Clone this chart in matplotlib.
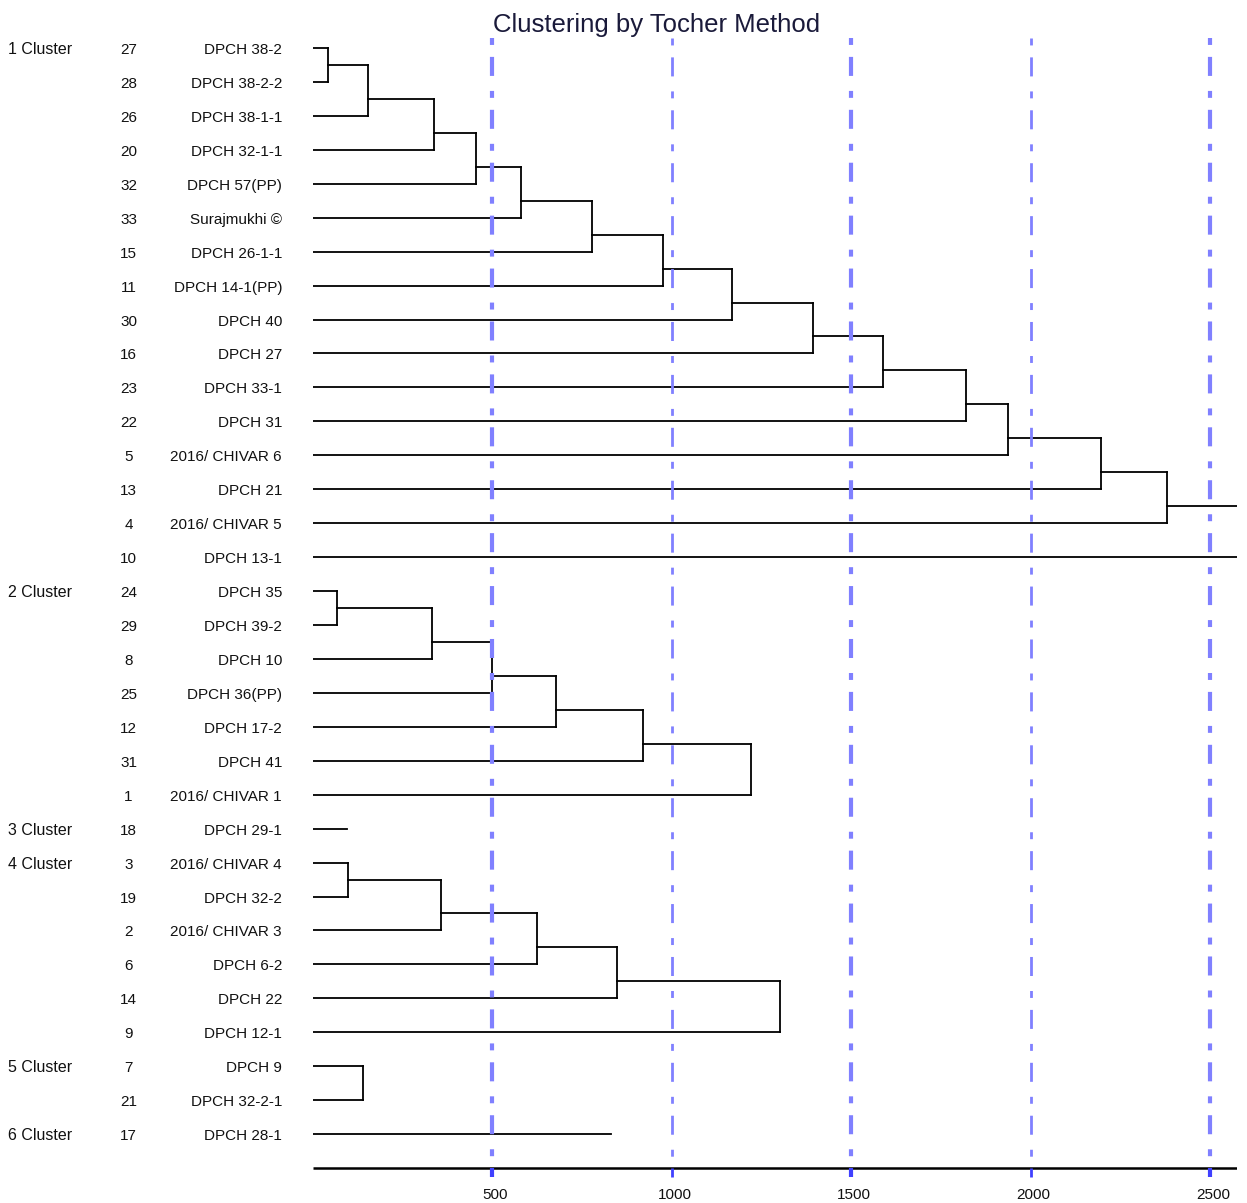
import matplotlib
matplotlib.use("Agg")
import matplotlib.pyplot as plt
import matplotlib.transforms as mtransforms
from matplotlib.collections import LineCollection
from matplotlib import font_manager

plt.rcParams['font.family'] = ['Liberation Sans', 'DejaVu Sans']
plt.rcParams['lines.scale_dashes'] = False

# ---------------- data ----------------
title = "Clustering by Tocher Method"

cluster_labels = ["1 Cluster", "2 Cluster", "3 Cluster", "4 Cluster", "5 Cluster", "6 Cluster"]
cluster_sizes = [16, 7, 1, 6, 2, 1]

genotype_ids = [27, 28, 26, 20, 32, 33, 15, 11, 30, 16, 23, 22, 5, 13, 4, 10,
                24, 29, 8, 25, 12, 31, 1,
                18,
                3, 19, 2, 6, 14, 9,
                7, 21,
                17]
genotype_names = ["DPCH 38-2", "DPCH 38-2-2", "DPCH 38-1-1", "DPCH 32-1-1", "DPCH 57(PP)",
                  "Surajmukhi ©", "DPCH 26-1-1", "DPCH 14-1(PP)", "DPCH 40", "DPCH 27",
                  "DPCH 33-1", "DPCH 31", "2016/ CHIVAR 6", "DPCH 21", "2016/ CHIVAR 5",
                  "DPCH 13-1",
                  "DPCH 35", "DPCH 39-2", "DPCH 10", "DPCH 36(PP)", "DPCH 17-2", "DPCH 41",
                  "2016/ CHIVAR 1",
                  "DPCH 29-1",
                  "2016/ CHIVAR 4", "DPCH 32-2", "2016/ CHIVAR 3", "DPCH 6-2", "DPCH 22",
                  "DPCH 12-1",
                  "DPCH 9", "DPCH 32-2-1",
                  "DPCH 28-1"]

# merge heights of each (chain-shaped) sub-tree, in leaf order
c1_heights = [43, 155, 338, 455, 580, 779, 975, 1167, 1394, 1589, 1821, 1937, 2196, 2381]
c2_heights = [68, 332, 498, 677, 921, 1222]
c4_heights = [99, 356, 626, 847, 1301]
c5_heights = [141]

x_max = 2574
# (number of leaves, merge heights, tail length of final stem or None)
subtrees = [
    (15, c1_heights, x_max),
    (1, [], x_max),          # DPCH 13-1
    (7, c2_heights, None),
    (1, [], 94),             # DPCH 29-1
    (6, c4_heights, None),
    (2, c5_heights, None),
    (1, [], 832),            # DPCH 28-1
]

grid_values = [500, 1000, 1500, 2000, 2500]
grid_widths = [3.0, 2.0, 3.0, 2.0, 3.0]

# ---------------- fonts ----------------
names_avail = {f.name for f in font_manager.fontManager.ttflist}
if 'Liberation Sans Narrow' in names_avail:
    lab_family = ['Liberation Sans Narrow', 'DejaVu Sans']
    fs_lab, fs_clu, fs_tick = 13, 14, 12.3
else:
    lab_family = ['Liberation Sans', 'DejaVu Sans']
    fs_lab, fs_clu, fs_tick = 11, 11.5, 11

# ---------------- figure ----------------
W, H = 1247, 1203
fig = plt.figure(figsize=(W / 100, H / 100), dpi=100)
x0_px, x1_px = 312.8, 1236.7
ax = fig.add_axes([x0_px / W, 0, (x1_px - x0_px) / W, 1])
row_px = 33.94
first_row_px = 48
n_rows = len(genotype_ids)
ax.set_xlim(0, x_max)
ax.set_ylim(1 + (H - first_row_px) / row_px, 1 - first_row_px / row_px)
ax.axis('off')

rows = list(range(1, n_rows + 1))

segs = []
r = 0
for n, heights, tail in subtrees:
    ys = rows[r:r + n]
    if n == 1:
        segs.append([(0, ys[0]), (tail, ys[0])])
    else:
        out_y = None
        out_x = None
        for k, h in enumerate(heights):
            if k == 0:
                segs.append([(0, ys[0]), (h, ys[0])])
                segs.append([(0, ys[1]), (h, ys[1])])
                segs.append([(h, ys[0]), (h, ys[1])])
            else:
                segs.append([(0, ys[k + 1]), (h, ys[k + 1])])
                segs.append([(out_x, out_y), (h, out_y)])
                segs.append([(h, out_y), (h, ys[k + 1])])
            out_y = (ys[k] + ys[k + 1]) / 2
            out_x = h
        if tail is not None:
            segs.append([(out_x, out_y), (tail, out_y)])
    r += n

ax.add_collection(LineCollection(segs, colors='black', linewidths=1.3, zorder=2,
                                 capstyle='projecting'))

# axis line
axis_row = n_rows + 1
ax.plot([0, x_max], [axis_row, axis_row], color='black', lw=1.8, zorder=2,
        solid_capstyle='butt')

# grid lines (drawn on top)
top_row = 1 + (38 - first_row_px) / row_px
dash = (5.0, 8.6, 13.7, 10.8)
for gv, gw in zip(grid_values, grid_widths):
    ax.plot([gv, gv], [top_row, axis_row], color='#8080ff', lw=gw, zorder=3,
            linestyle=(0, dash), dash_capstyle='butt')
    ax.plot([gv, gv], [axis_row, axis_row + 9 / row_px], color='#4040ff', lw=gw,
            zorder=3, solid_capstyle='butt')
    ax.text(gv + 8, axis_row + 31 / row_px, str(gv), ha='center', va='baseline',
            fontsize=fs_tick, family=lab_family, color='#111111', clip_on=False)

# left labels
trans = mtransforms.blended_transform_factory(fig.transFigure, ax.transData)
base_off = 6 / row_px
for i, (gid, name) in enumerate(zip(genotype_ids, genotype_names)):
    y = rows[i] + base_off
    ax.text(128.5 / W, y, str(gid), transform=trans, ha='center', va='baseline',
            fontsize=fs_lab, family=lab_family, color='#111111', clip_on=False)
    ax.text(282 / W, y, name, transform=trans, ha='right', va='baseline',
            fontsize=fs_lab, family=lab_family, color='#111111', clip_on=False)

start = 0
for lab, size in zip(cluster_labels, cluster_sizes):
    ax.text(8 / W, rows[start] + base_off, lab, transform=trans, ha='left',
            va='baseline', fontsize=fs_clu, family=lab_family, color='#111111',
            clip_on=False)
    start += size

fig.text(657 / W, 1 - 32 / H, title, ha='center', va='baseline', fontsize=18.5,
         color='#1a1a3a')

fig.savefig("out.png", dpi=100)
